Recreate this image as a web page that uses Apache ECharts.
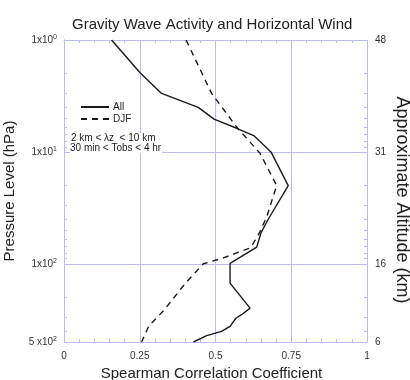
<!DOCTYPE html>
<html>
<head>
<meta charset="utf-8">
<script src="https://cdn.jsdelivr.net/npm/echarts@6/dist/echarts.min.js"></script>
<style>html,body{margin:0;padding:0;background:#fff}#c{width:410px;height:380px}</style>
</head>
<body>
<div id="c"></div>
<script>
// Pressure levels (hPa) and correlation values
const allCorr     = [0.157, 0.251, 0.322, 0.443, 0.495, 0.570, 0.628, 0.683, 0.740, 0.674, 0.650, 0.636, 0.548, 0.548, 0.614, 0.586, 0.568, 0.548, 0.520, 0.471, 0.427];
const allPressure = [1,     1.96,  3.0,   4.0,   5.1,   6.15,  7.2,   10,    20,    40,    53,    71,    99,    149,   249,   285,   305,   363,   402,   439,   500];
const djfCorr     = [0.403, 0.487, 0.570, 0.647, 0.702, 0.669, 0.645, 0.616, 0.524, 0.460, 0.400, 0.330, 0.280, 0.256];
const djfPressure = [1,     3,     6,     10.3,  20,    38,    53,    72,    89,    100,   150,   260,   360,   500];
const xTicks = [0, 0.25, 0.5, 0.75, 1];
const xTickLabels = ['0', '0.25', '0.5', '0.75', '1'];
const pressureTicks = [1, 10, 100, 500];
const pressureLabels = ['1x10{s|0}', '1x10{s|1}', '1x10{s|2}', '5 x10{s|2}'];
const altitudeLabels = ['48', '31', '16', '6'];
const minorPressure = [2,3,4,5,6,7,8,9,20,30,40,50,60,70,80,90,200,300,400];
const minorX = [0.05,0.1,0.15,0.2,0.3,0.35,0.4,0.45,0.55,0.6,0.65,0.7,0.8,0.85,0.9,0.95];
const seriesNames = ['All', 'DJF'];
const notes = ['2 km < λz  < 10 km', '30 min < Tobs < 4 hr'];

const gridColor = '#bcbcf2';
const font = 'Liberation Sans, Arial, sans-serif';
const chart = echarts.init(document.getElementById('c'));
const labelRich = { s: { fontSize: 7, verticalAlign: 'top', padding: [0,0,6,0], color: '#333', fontFamily: font } };

function pairs(xs, ys) { return xs.map((x, i) => [x, ys[i]]); }
function pLabel(list) {
  return v => { const i = pressureTicks.findIndex(t => Math.abs(t - v) < 1e-6 * t); return i >= 0 ? list[i] : ''; };
}
const tickAxisX = pos => ({
  type: 'value', min: 0, max: 1, position: pos,
  axisLine: { show: pos === 'top', lineStyle: { color: gridColor } },
  axisTick: { show: true, inside: true, length: 3, customValues: minorX, lineStyle: { color: gridColor } },
  axisLabel: { show: false }, splitLine: { show: false }
});
const tickAxisY = pos => ({
  type: 'log', min: 1, max: 500, inverse: true, logBase: 10, position: pos,
  axisLine: { show: false },
  axisTick: { show: true, inside: true, length: 3, customValues: minorPressure, lineStyle: { color: gridColor } },
  axisLabel: { show: false }, splitLine: { show: false }
});

chart.setOption({
  animation: false,
  backgroundColor: '#fff',
  title: {
    text: 'Gravity Wave Activity and Horizontal Wind',
    left: 67, top: 12,
    textStyle: { fontFamily: font, fontSize: 15, fontWeight: 'normal', color: '#222' }
  },
  grid: { left: 64, right: 43, top: 40, bottom: 38, outerBoundsMode: 'none', containLabel: false },
  legend: {
    data: seriesNames,
    orient: 'vertical', left: 80, top: 102, padding: 0,
    itemWidth: 28, itemHeight: 10, itemGap: 2,
    itemStyle: { opacity: 0 },
    textStyle: { fontFamily: font, fontSize: 10, color: '#222', padding: [0,0,0,-1] }
  },
  graphic: [
    { type: 'text', left: 71, top: 133, z: 100, style: { text: notes[0], font: '10px ' + font, fill: '#222', backgroundColor: '#fff' } },
    { type: 'text', left: 70, top: 143, z: 100, style: { text: notes[1], font: '10px ' + font, fill: '#222', backgroundColor: '#fff', padding: [0,1,0,0] } },
    { type: 'text', x: 402, y: 200, rotation: -Math.PI / 2, z: 100,
      style: { text: 'Approximate Altitude (km)', font: '18px ' + font, fill: '#222', textAlign: 'center', textVerticalAlign: 'middle' } }
  ],
  xAxis: [
    {
      type: 'value', min: 0, max: 1, interval: 0.25,
      name: 'Spearman Correlation Coefficient', nameLocation: 'middle', nameGap: 21,
      nameTextStyle: { fontFamily: font, fontSize: 15, color: '#222', padding: [0, 8, 0, 0] },
      axisLine: { show: true, lineStyle: { color: gridColor } },
      axisTick: { show: false },
      axisLabel: { margin: 9, fontFamily: font, fontSize: 10, color: '#333',
        formatter: v => xTickLabels[xTicks.indexOf(v)] ?? '' },
      splitLine: { show: true, lineStyle: { color: gridColor } }
    },
    tickAxisX('bottom'),
    tickAxisX('top')
  ],
  yAxis: [
    {
      type: 'log', min: 1, max: 500, inverse: true, logBase: 10,
      name: 'Pressure Level (hPa)', nameLocation: 'middle', nameGap: 40, nameRotate: 90,
      nameTextStyle: { fontFamily: font, fontSize: 15, color: '#222' },
      axisLine: { show: true, lineStyle: { color: gridColor } },
      axisTick: { show: false },
      axisLabel: { margin: 7, fontFamily: font, fontSize: 10, color: '#333', customValues: pressureTicks,
        formatter: pLabel(pressureLabels), rich: labelRich },
      splitLine: { show: false }
    },
    {
      type: 'log', min: 1, max: 500, inverse: true, logBase: 10, position: 'right',
      axisLine: { show: true, lineStyle: { color: gridColor } },
      axisTick: { show: false },
      axisLabel: { margin: 8, fontFamily: font, fontSize: 10, color: '#333', customValues: pressureTicks,
        formatter: pLabel(altitudeLabels) },
      splitLine: { show: false }
    },
    {
      type: 'log', min: 1, max: 500, inverse: true, logBase: 10, position: 'left',
      axisLine: { show: false }, axisTick: { show: false }, axisLabel: { show: false },
      splitLine: { show: true, lineStyle: { color: gridColor } }
    },
    tickAxisY('left'),
    tickAxisY('right')
  ],
  series: [
    {
      name: seriesNames[0], type: 'line', xAxisIndex: 0, yAxisIndex: 0,
      data: pairs(allCorr, allPressure), symbol: 'none', z: 3,
      lineStyle: { color: '#1a1a1a', width: 1.4, type: 'solid' }, itemStyle: { color: '#1a1a1a' }
    },
    {
      name: seriesNames[1], type: 'line', xAxisIndex: 0, yAxisIndex: 0,
      data: pairs(djfCorr, djfPressure), symbol: 'none', z: 3,
      lineStyle: { color: '#1a1a1a', width: 1.4, type: [6, 5] }, itemStyle: { color: '#1a1a1a' }
    }
  ]
});
</script>
</body>
</html>
